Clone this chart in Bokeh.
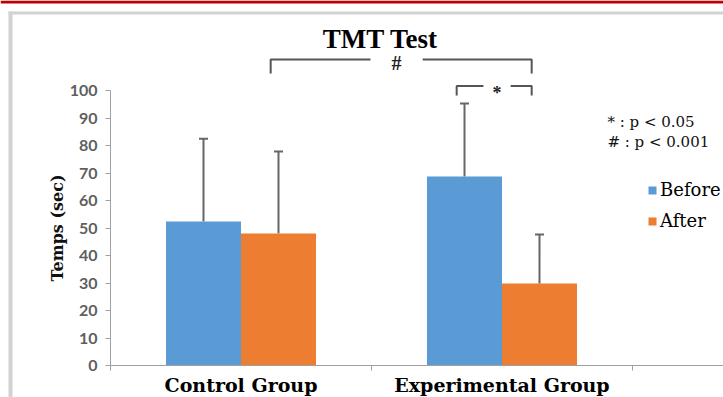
import math
from bokeh.plotting import figure
from bokeh.models import (Range1d, FixedTicker, Whisker, TeeHead, ColumnDataSource,
                          BoxAnnotation, Legend, LegendItem)
from bokeh.core.properties import value
from bokeh.embed import file_html
from bokeh.resources import INLINE

# ---- data ----
groups = ["Control Group", "Experimental Group"]
series = ["Before", "After"]
before = [52.4, 68.7]
after = [48.0, 29.8]
before_err = [30.1, 26.6]
after_err = [29.8, 17.8]
y_ticks = [0, 10, 20, 30, 40, 50, 60, 70, 80, 90, 100]
title_text = "TMT Test"
sig_marks = ["#", "*"]
note_lines = ["* : p < 0.05", "# : p < 0.001"]
y_label = "Temps (sec)"

# ---- style / layout ----
colors = ["#5b9bd5", "#ed7d31"]
W, H = 723, 397
AX_X, AX_Y = 110, 365        # canvas position of the axes origin
PX_CAT = 261.0               # pixels per category
PX_UNIT = 2.75               # pixels per y unit
bw = 75.0 / PX_CAT

x0, x1 = -AX_X / PX_CAT, (W - AX_X) / PX_CAT
y0, y1 = -(H - AX_Y) / PX_UNIT, AX_Y / PX_UNIT

p = figure(width=W, height=H, x_range=Range1d(x0, x1), y_range=Range1d(y0, y1),
           output_backend="svg", toolbar_location=None,
           min_border_left=0, min_border_right=0, min_border_top=0, min_border_bottom=0)
p.outline_line_color = None
p.grid.visible = False

cx = [i + 0.5 for i in range(len(groups))]
xb = [c - bw / 2 for c in cx]
xa = [c + bw / 2 for c in cx]

rb = p.vbar(x=xb, top=before, width=bw, fill_color=colors[0], line_color=None)
ra = p.vbar(x=xa, top=after, width=bw, fill_color=colors[1], line_color=None)

err_src = ColumnDataSource(dict(
    x=xb + xa,
    lo=before + after,
    hi=[v + e for v, e in zip(before, before_err)] + [v + e for v, e in zip(after, after_err)],
))
p.add_layout(Whisker(base="x", lower="lo", upper="hi", source=err_src,
                     line_color="#666666", line_width=2,
                     upper_head=TeeHead(size=9, line_color="#666666", line_width=2),
                     lower_head=None))

# significance brackets
inset = 0.03
br_color = "#555555"
b1_l, b1_r = xa[0] - inset, xa[1] - inset
b1_top, b1_foot = 111.3, 106.2
b1_mid = 1.096
gap1 = 0.10
b2_l, b2_r = xb[1] - inset, xa[1] - inset
b2_top, b2_foot = 101.6, 98.2
b2_mid = 1.481
gap2 = 0.052
p.multi_line(xs=[[b1_l, b1_l, b1_mid - gap1], [b1_mid + gap1, b1_r, b1_r],
                 [b2_l, b2_l, b2_mid - gap2], [b2_mid + gap2, b2_r, b2_r]],
             ys=[[b1_foot, b1_top, b1_top], [b1_top, b1_top, b1_foot],
                 [b2_foot, b2_top, b2_top], [b2_top, b2_top, b2_foot]],
             line_color=br_color, line_width=2)
p.text(x=[b1_mid], y=[b1_top - 1.4], text=[sig_marks[0]], text_align="center",
       text_baseline="middle", text_font=value("Liberation Serif"),
       text_font_size="20px", text_font_style="bold", text_color="#222222")
p.text(x=[b2_mid], y=[b2_top - 2.4], text=[sig_marks[1]], text_align="center",
       text_baseline="middle", text_font=value("Liberation Serif"),
       text_font_size="18px", text_font_style="bold", text_color="#222222")

# title
p.text(x=[1.034], y=[118.9], text=[title_text], text_align="center", text_baseline="middle",
       text_font=value("Liberation Serif"), text_font_size="27px", text_font_style="bold",
       text_color="#000000")

# p-value notes
p.text(x=[1.904, 1.904], y=[88.7, 81.4], text=note_lines, text_align="left",
       text_baseline="middle", text_font=value("DejaVu Serif"), text_font_size="15px",
       text_color="#111111")

# y axis title (rotated, centred on the 0-100 span)
p.text(x=[-0.203], y=[50], text=[y_label], angle=math.pi / 2, text_align="center",
       text_baseline="middle", text_font=value("DejaVu Serif"), text_font_size="16px",
       text_font_style="bold", text_color="#111111")

# legend
legend = Legend(items=[LegendItem(label=series[0], renderers=[rb]),
                       LegendItem(label=series[1], renderers=[ra])],
                location=(647, H - 231), orientation="vertical",
                glyph_width=10, glyph_height=10, label_standoff=3, spacing=10,
                padding=0, margin=0, border_line_color=None, background_fill_alpha=0,
                label_text_font="DejaVu Serif", label_text_font_size="18px",
                label_text_color="#000000")
p.add_layout(legend)

# axes (fixed at the data origin, inside the full-canvas frame)
ax = p.xaxis[0]
ax.fixed_location = 0
ax.bounds = (0, x1)
ax.ticker = FixedTicker(ticks=cx, minor_ticks=[0, 1, 2])
ax.major_label_overrides = {c: g for c, g in zip(cx, groups)}
ax.major_tick_out = 0
ax.major_tick_in = 0
ax.minor_tick_out = 5
ax.minor_tick_in = 0
ax.minor_tick_line_color = "#a0a0a0"
ax.axis_line_color = "#a0a0a0"
ax.major_label_standoff = 3
ax.major_label_text_font = "DejaVu Serif"
ax.major_label_text_font_style = "bold"
ax.major_label_text_font_size = "19px"
ax.major_label_text_color = "#000000"

ya = p.yaxis[0]
ya.fixed_location = 0
ya.ticker = FixedTicker(ticks=y_ticks)
ya.bounds = (0, 100)
ya.major_tick_out = 5
ya.major_tick_in = 0
ya.minor_tick_out = 0
ya.minor_tick_in = 0
ya.major_tick_line_color = "#a0a0a0"
ya.axis_line_color = "#a0a0a0"
ya.major_label_standoff = 8
ya.major_label_text_font = "Lato"
ya.major_label_text_font_style = "bold"
ya.major_label_text_font_size = "16px"
ya.major_label_text_color = "#5f5f5f"

# page frame decorations (canvas units)
def cbox(l, r, t, b, color):
    return BoxAnnotation(left=l, right=r, top=t, bottom=b,
                         left_units="canvas", right_units="canvas",
                         top_units="canvas", bottom_units="canvas",
                         fill_color=color, fill_alpha=1, line_color=None, level="overlay")

p.add_layout(cbox(0, W, 0, 3, "#c00000"))
p.add_layout(cbox(8, W, 11, 14, "#d2d2d2"))
p.add_layout(cbox(8, 12, 11, H, "#d2d2d2"))

open("out.html", "w").write(file_html(p, INLINE))
